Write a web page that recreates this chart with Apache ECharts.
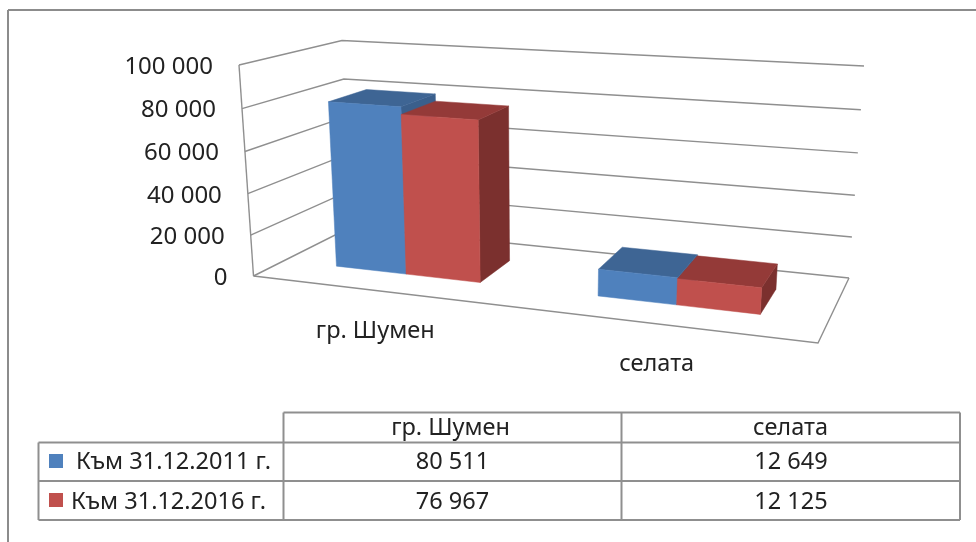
<!DOCTYPE html>
<html lang="bg">
<head>
    <meta charset="UTF-8">
    <title>Население</title>
    <script src="https://cdn.jsdelivr.net/npm/echarts@6/dist/echarts.min.js"></script>
    <style>
        html, body { margin: 0; padding: 0; background: #fff; }
    </style>
</head>
<body>
<div id="pic1" style="width: 976px;height:542px"></div>
<script>
    // data
    var categories = ['гр. Шумен', 'селата'];
    var seriesNames = ['Към 31.12.2011 г.', 'Към 31.12.2016 г.'];
    var values2011 = [80511, 12649];
    var values2016 = [76967, 12125];
    var yTicks = [0, 20000, 40000, 60000, 80000, 100000];

    var FONT = '"Noto Sans", sans-serif';
    var TEXT = '#222222';
    var LINE = '#8f8f8f';
    var BLUE = { front: '#4f81bd', top: '#3e6594', side: '#3a5f8c' };
    var RED = { front: '#c0504d', top: '#943a38', side: '#7b302e' };

    // 3d box of the plot on screen: floor and top corners
    var floor = { fl: [253.5, 276], bl: [351, 227], br: [849, 278], fr: [818, 343] };
    var roof = { fl: [239, 65], bl: [342, 40.5], br: [864, 66], fr: [833.5, 103] };

    function warp(t, k) { return k * t / (1 + (k - 1) * t); }
    function mix(a, b, t) { return [a[0] + (b[0] - a[0]) * t, a[1] + (b[1] - a[1]) * t]; }
    function corner(c, u, w) { return mix(mix(c.fl, c.fr, u), mix(c.bl, c.br, u), w); }
    // U across, V up, W into the picture, all 0..1
    function proj(U, V, W) {
        var u = warp(U, 0.886), v = warp(V, 0.96), w = warp(W, 1.105);
        return mix(corner(floor, u, w), corner(roof, u, w), v);
    }
    function toUnit(params, p) {
        var cs = params.coordSys;
        return [(p[0] - cs.x) / cs.width, (cs.y + cs.height - p[1]) / cs.height];
    }
    function fmt(n) { return String(n).replace(/\B(?=(\d{3})+$)/g, ' '); }

    function line(points) {
        return {
            type: 'polyline',
            shape: { points: points },
            style: { stroke: LINE, lineWidth: 1.4, fill: null }
        };
    }
    function label(text, x, y, align, size) {
        return {
            type: 'text',
            style: {
                text: text, x: x, y: y, align: align, verticalAlign: 'middle',
                fontFamily: FONT, fontSize: size, fill: TEXT
            }
        };
    }
    function face(points, color) {
        return {
            type: 'polygon',
            shape: { points: points },
            style: { fill: color, stroke: color, lineWidth: 0.5 }
        };
    }

    // walls, gridlines and the value labels
    function renderTick(params, api) {
        var p = toUnit(params, api.coord([0, api.value(0)]));
        var V = p[1];
        var a = proj(0, V, 0);
        var kids = [
            line([a, proj(0, V, 1), proj(1, V, 1)]),
            label(fmt(api.value(0)), a[0] - 26, a[1] + 2, 'right', 24)
        ];
        if (api.value(0) === 0) {
            kids.push(line([proj(0, 0, 0), proj(1, 0, 0), proj(1, 0, 1)]));
            kids.push(line([proj(0, 0, 0), proj(0, 1, 0)]));
        }
        return { type: 'group', children: kids };
    }

    function renderCategory(params, api) {
        var p = toUnit(params, api.coord([api.value(0), 0]));
        var a = proj(p[0], 0, 0);
        return label(categories[api.value(0)], a[0] - 7, a[1] + 40, 'center', 23.5);
    }

    function barRenderer(colors, U0shift, width) {
        return function (params, api) {
            var p = toUnit(params, api.coord([api.value(0), api.value(1)]));
            var U0 = p[0] + U0shift;
            var U1 = U0 + width;
            var V = p[1], W0 = 0.3, W1 = 0.7;
            return {
                type: 'group',
                children: [
                    face([proj(U1, 0, W0), proj(U1, 0, W1), proj(U1, V, W1), proj(U1, V, W0)], colors.side),
                    face([proj(U0, V, W0), proj(U1, V, W0), proj(U1, V, W1), proj(U0, V, W1)], colors.top),
                    face([proj(U0, 0, W0), proj(U1, 0, W0), proj(U1, V, W0), proj(U0, V, W0)], colors.front)
                ]
            };
        };
    }

    function rows(values) {
        return values.map(function (v, i) { return [i, v]; });
    }

    // frame and data table under the chart
    var colX = [38.5, 283.5, 621.5, 960];
    var rowY = [412.5, 442.5, 481, 520];
    function gLine(x1, y1, x2, y2, color, width) {
        return {
            type: 'line',
            shape: { x1: x1, y1: y1, x2: x2, y2: y2 },
            style: { stroke: color, lineWidth: width }
        };
    }
    function gText(text, x, y, align) {
        return {
            type: 'text',
            style: {
                text: text, x: x, y: y, align: align, verticalAlign: 'middle',
                fontFamily: FONT, fontSize: 23.5, fill: TEXT
            }
        };
    }
    var tableEls = [
        gLine(8, 10, 976, 10, '#8c8c8c', 2),
        gLine(8, 10, 8, 542, '#8c8c8c', 2),
        gLine(colX[1], rowY[0], colX[3], rowY[0], LINE, 2),
        gLine(colX[0], rowY[1], colX[3], rowY[1], LINE, 2),
        gLine(colX[0], rowY[2], colX[3], rowY[2], LINE, 2),
        gLine(colX[0], rowY[3], colX[3], rowY[3], LINE, 2),
        gLine(colX[0], rowY[1], colX[0], rowY[3], LINE, 2),
        gLine(colX[1], rowY[0], colX[1], rowY[3], LINE, 2),
        gLine(colX[2], rowY[0], colX[2], rowY[3], LINE, 2),
        gLine(colX[3], rowY[0], colX[3], rowY[3], LINE, 2),
        gText(categories[0], 450.5, 428, 'center'),
        gText(categories[1], 790.5, 428, 'center'),
        gText(seriesNames[0], 76, 462.5, 'left'),
        gText(seriesNames[1], 71, 502, 'left'),
        gText(fmt(values2011[0]), 452.5, 462.5, 'center'),
        gText(fmt(values2011[1]), 791, 462.5, 'center'),
        gText(fmt(values2016[0]), 452.5, 502, 'center'),
        gText(fmt(values2016[1]), 791, 502, 'center'),
        { type: 'rect', shape: { x: 49, y: 454, width: 14, height: 14 }, style: { fill: BLUE.front } },
        { type: 'rect', shape: { x: 49, y: 493, width: 14, height: 14 }, style: { fill: RED.front } }
    ];

    var myCharts1 = echarts.init(document.getElementById('pic1'), null, { renderer: 'canvas' });
    var option1 = {
        backgroundColor: 'white',
        animation: false,
        grid: { left: 0, right: 0, top: 0, bottom: 0 },
        xAxis: { type: 'category', data: categories, show: false },
        yAxis: { type: 'value', min: 0, max: 100000, interval: 20000, show: false },
        graphic: { elements: tableEls },
        series: [
            { type: 'custom', name: 'ticks', renderItem: renderTick, data: yTicks.map(function (t) { return [t]; }), encode: { y: 0 } },
            { type: 'custom', name: 'labels', renderItem: renderCategory, data: categories.map(function (c, i) { return [i]; }), encode: { x: 0 } },
            { type: 'custom', name: seriesNames[0], renderItem: barRenderer(BLUE, -0.144, 0.139), data: rows(values2011), encode: { x: 0, y: 1 } },
            { type: 'custom', name: seriesNames[1], renderItem: barRenderer(RED, -0.005, 0.143), data: rows(values2016), encode: { x: 0, y: 1 } }
        ]
    };
    myCharts1.setOption(option1, true);
</script>
</body>
</html>
